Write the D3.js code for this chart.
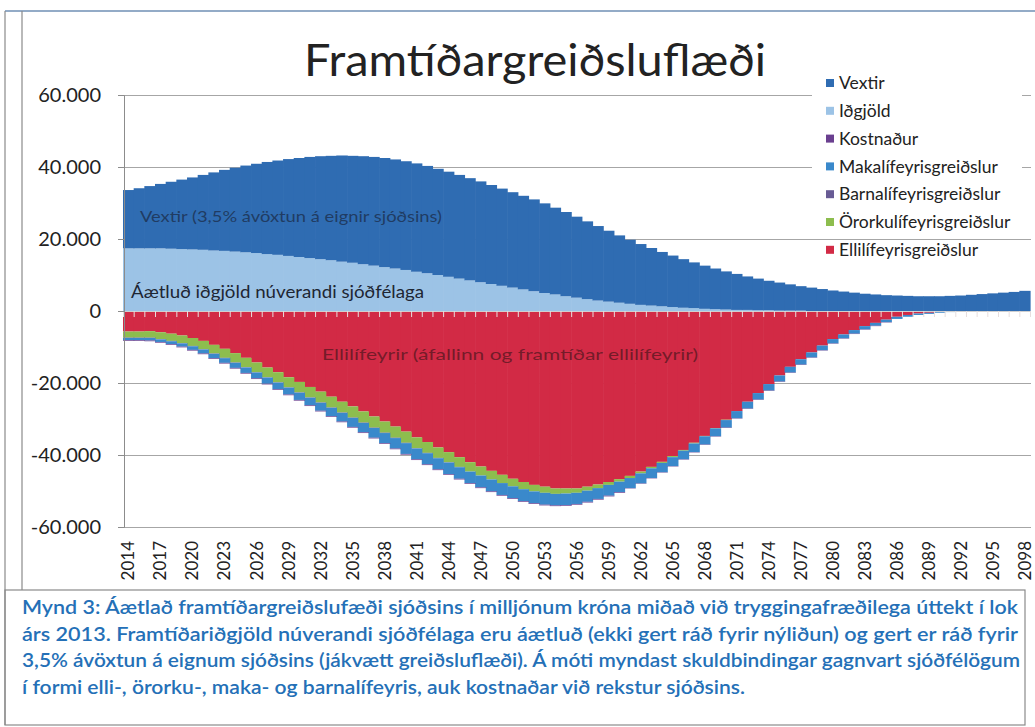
<!DOCTYPE html>
<html>
<head>
<meta charset="utf-8">
<script src="https://cdn.jsdelivr.net/npm/d3@7"></script>
<style>
  body { margin: 0; background: #fff; }
  svg { display: block; font-family: Lato, "Open Sans", sans-serif; }
</style>
</head>
<body>
<svg id="chart" width="1035" height="727"></svg>
<script>
// values in thousands of millions kr (axis shows 60.000 = 60 here)
const years = d3.range(2014, 2099);

const vextir = [
  16.2, 16.7, 17.3, 17.9, 18.6, 19.3, 20.0, 20.8, 21.7, 22.5,
  23.3, 24.1, 24.8, 25.6, 26.2, 26.9, 27.5, 28.1, 28.6, 29.0,
  29.5, 29.7, 30.0, 30.2, 30.3, 30.3, 30.2, 30.1, 29.8, 29.5,
  29.2, 28.8, 28.4, 28.0, 27.5, 27.0, 26.5, 26.0, 25.5, 24.9,
  24.1, 23.4, 22.5, 21.6, 20.7, 19.7, 18.7, 17.8, 16.9, 16.0,
  15.1, 14.3, 13.5, 12.7, 12.0, 11.3, 10.6, 10.0, 9.3, 8.8,
  8.2, 7.8, 7.3, 6.8, 6.5, 6.1, 5.7, 5.4, 5.1, 4.8,
  4.6, 4.4, 4.3, 4.2, 4.1, 4.1, 4.1, 4.2, 4.3, 4.5,
  4.7, 4.9, 5.1, 5.3, 5.6
];
const idgjold = [
  17.4, 17.4, 17.4, 17.4, 17.3, 17.2, 17.1, 17.0, 16.8, 16.7,
  16.5, 16.3, 16.1, 15.8, 15.6, 15.3, 15.0, 14.7, 14.4, 14.1,
  13.7, 13.4, 13.0, 12.6, 12.2, 11.8, 11.4, 10.9, 10.5, 10.0,
  9.5, 9.0, 8.5, 8.0, 7.5, 7.0, 6.5, 6.0, 5.5, 5.0,
  4.6, 4.1, 3.7, 3.3, 2.9, 2.6, 2.3, 2.0, 1.7, 1.5,
  1.3, 1.1, 0.9, 0.8, 0.6, 0.5, 0.4, 0.3, 0.3, 0.2,
  0.2, 0.1, 0.1, 0.1, 0, 0, 0, 0, 0, 0,
  0, 0, 0, 0, 0, 0, 0, 0, 0, 0,
  0, 0, 0, 0, 0
];
const kostnadur = [
  0.2, 0.2, 0.2, 0.2, 0.2, 0.2, 0.2, 0.2, 0.2, 0.2,
  0.2, 0.2, 0.2, 0.2, 0.2, 0.2, 0.2, 0.2, 0.2, 0.2,
  0.2, 0.2, 0.2, 0.2, 0.2, 0.2, 0.2, 0.2, 0.2, 0.2,
  0.2, 0.2, 0.2, 0.2, 0.2, 0.2, 0.2, 0.2, 0.2, 0.2,
  0.2, 0.2, 0.2, 0.2, 0.2, 0.2, 0.2, 0.1, 0.1, 0.1,
  0.1, 0.1, 0.1, 0.1, 0.1, 0.1, 0.1, 0.1, 0.1, 0.1,
  0.1, 0.1, 0.1, 0.1, 0.1, 0.1, 0.1, 0.1, 0.1, 0.1,
  0.1, 0.1, 0, 0, 0, 0, 0, 0, 0, 0,
  0, 0, 0, 0, 0
];
const maka = [
  0.6, 0.6, 0.7, 0.7, 0.8, 0.9, 1.0, 1.1, 1.2, 1.3,
  1.4, 1.5, 1.6, 1.7, 1.8, 1.9, 2.0, 2.1, 2.2, 2.3,
  2.4, 2.5, 2.6, 2.7, 2.8, 2.9, 3.0, 3.0, 3.1, 3.1,
  3.2, 3.2, 3.2, 3.3, 3.3, 3.3, 3.3, 3.3, 3.3, 3.3,
  3.2, 3.2, 3.1, 3.1, 3.0, 3.0, 2.9, 2.8, 2.8, 2.7,
  2.6, 2.5, 2.4, 2.4, 2.3, 2.2, 2.1, 2.0, 1.9, 1.8,
  1.8, 1.7, 1.6, 1.5, 1.4, 1.3, 1.2, 1.1, 1.0, 0.9,
  0.8, 0.7, 0.6, 0.5, 0.4, 0.3, 0.2, 0.2, 0.1, 0.1,
  0, 0, 0, 0, 0
];
const barna = [
  0.1, 0.1, 0.1, 0.1, 0.1, 0.1, 0.1, 0.1, 0.1, 0.1,
  0.1, 0.1, 0.1, 0.1, 0.1, 0.1, 0.1, 0.1, 0.1, 0.1,
  0.1, 0.1, 0.1, 0.1, 0.1, 0.1, 0.1, 0.1, 0.1, 0.1,
  0.1, 0.1, 0, 0, 0, 0, 0, 0, 0, 0,
  0, 0, 0, 0, 0, 0, 0, 0, 0, 0,
  0, 0, 0, 0, 0, 0, 0, 0, 0, 0,
  0, 0, 0, 0, 0, 0, 0, 0, 0, 0,
  0, 0, 0, 0, 0, 0, 0, 0, 0, 0,
  0, 0, 0, 0, 0
];
const ororku = [
  1.7, 1.7, 1.8, 1.9, 2.0, 2.1, 2.2, 2.3, 2.4, 2.5,
  2.6, 2.6, 2.7, 2.7, 2.8, 2.8, 2.9, 2.9, 3.0, 3.0,
  3.0, 3.1, 3.1, 3.1, 3.1, 3.1, 3.1, 3.0, 3.0, 2.9,
  2.8, 2.7, 2.6, 2.5, 2.4, 2.3, 2.1, 2.0, 1.8, 1.7,
  1.5, 1.4, 1.2, 1.1, 1.0, 0.8, 0.7, 0.6, 0.5, 0.4,
  0.3, 0.3, 0.2, 0.2, 0.1, 0.1, 0.1, 0, 0, 0,
  0, 0, 0, 0, 0, 0, 0, 0, 0, 0,
  0, 0, 0, 0, 0, 0, 0, 0, 0, 0,
  0, 0, 0, 0, 0
];
const elli = [
  5.7, 5.7, 5.6, 5.9, 6.3, 6.8, 7.5, 8.3, 9.4, 10.5,
  11.7, 13.0, 14.3, 15.7, 17.0, 18.4, 19.7, 21.1, 22.4, 23.8,
  25.2, 26.5, 27.9, 29.3, 30.7, 32.1, 33.5, 35.1, 36.4, 37.9,
  39.2, 40.6, 42.0, 43.2, 44.4, 45.5, 46.6, 47.5, 48.3, 48.8,
  49.3, 49.3, 49.3, 48.8, 48.2, 47.5, 46.7, 45.8, 44.6, 43.3,
  41.9, 40.3, 38.6, 36.6, 34.7, 32.5, 30.2, 27.8, 25.2, 22.8,
  20.3, 17.9, 15.5, 13.4, 11.5, 9.6, 7.8, 6.5, 5.3, 4.2,
  3.3, 2.4, 1.6, 1.1, 0.7, 0.5, 0.3, 0.1, 0.1, 0,
  0, 0, 0, 0, 0
];

const yTicks = [-60, -40, -20, 0, 20, 40, 60];
const xLabelYears = years.filter((d, i) => i % 3 === 0);

const series = [
  { key: "vextir", name: "Vextir", values: vextir, color: "#2f6cb2", out: false },
  { key: "idgjold", name: "Iðgjöld", values: idgjold, color: "#9cc3e6", out: false },
  { key: "kostnadur", name: "Kostnaður", values: kostnadur, color: "#6a3f8f", out: true },
  { key: "maka", name: "Makalífeyrisgreiðslur", values: maka, color: "#3a89cb", out: true },
  { key: "barna", name: "Barnalífeyrisgreiðslur", values: barna, color: "#685b94", out: true },
  { key: "ororku", name: "Örorkulífeyrisgreiðslur", values: ororku, color: "#8dbd4e", out: true },
  { key: "elli", name: "Ellilífeyrisgreiðslur", values: elli, color: "#d22a45", out: true }
];

const captionLines = [
  "Mynd 3: Áætlað framtíðargreiðslufæði sjóðsins í milljónum króna miðað við tryggingafræðilega úttekt í lok",
  "árs 2013. Framtíðariðgjöld núverandi sjóðfélaga eru áætluð (ekki gert ráð fyrir nýliðun) og gert er ráð fyrir",
  "3,5% ávöxtun á eignum sjóðsins (jákvætt greiðsluflæði). Á móti myndast skuldbindingar gagnvart sjóðfélögum",
  "í formi elli-, örorku-, maka- og barnalífeyris, auk kostnaðar við rekstur sjóðsins."
];

const svg = d3.select("#chart");

const plot = { left: 123, right: 1030, top: 95, bottom: 527 };

const x = d3.scaleBand().domain(years).range([plot.left, plot.right]).padding(0);
const y = d3.scaleLinear().domain([-60, 60]).range([plot.bottom, plot.top]);

const isLocale = d3.formatLocale({ decimal: ",", thousands: ".", grouping: [3], currency: ["", " kr."], minus: "-" });
const fmt = isLocale.format(",.0f");

// frame
const frame = svg.append("g").attr("fill", "none");
frame.append("line").attr("x1", 5).attr("x2", 1035).attr("y1", 11).attr("y2", 11)
  .attr("stroke", "#6f8fb4").attr("stroke-width", 1.5);
frame.append("line").attr("x1", 5).attr("x2", 5).attr("y1", 11).attr("y2", 725)
  .attr("stroke", "#8a8a8a").attr("stroke-width", 1.2);
frame.append("line").attr("x1", 22).attr("x2", 22).attr("y1", 11).attr("y2", 590)
  .attr("stroke", "#8a8a8a").attr("stroke-width", 1.2);
frame.append("rect").attr("x", 5).attr("y", 590).attr("width", 1020).attr("height", 135)
  .attr("stroke", "#8a8a8a").attr("stroke-width", 1.2);

// gridlines
const grid = svg.append("g")
  .attr("transform", `translate(${plot.left + 1},0)`)
  .call(d3.axisLeft(y).tickValues(yTicks.filter(d => d !== 0))
    .tickSize(-(plot.right - plot.left)).tickFormat(""));
grid.select(".domain").remove();
grid.selectAll("line").attr("stroke", "#a6a6a6").attr("stroke-width", 1);

// stacked table
const table = years.map((yr, i) => {
  const row = { year: yr };
  series.forEach(s => { row[s.key] = s.out ? -s.values[i] : s.values[i]; });
  return row;
});
const stackOrder = ["elli", "ororku", "barna", "maka", "kostnadur", "idgjold", "vextir"];
const stacked = d3.stack().keys(stackOrder).offset(d3.stackOffsetDiverging)(table);
const colorOf = Object.fromEntries(series.map(s => [s.key, s.color]));

const bars = svg.append("g").attr("id", "bars");
bars.selectAll("g")
  .data(stacked)
  .join("g")
  .attr("fill", d => colorOf[d.key])
  .selectAll("rect")
  .data(d => d.filter(p => p[0] !== p[1]))
  .join("rect")
  .attr("x", d => x(d.data.year))
  .attr("width", x.bandwidth() + 0.6)
  .attr("y", d => y(Math.max(d[0], d[1])))
  .attr("height", d => Math.abs(y(d[0]) - y(d[1])));

// category axis at zero, ticks between categories
const idx = d3.scaleLinear().domain([0, years.length]).range([plot.left, plot.right]);
const zeroAxis = svg.append("g")
  .attr("transform", `translate(0,${y(0)})`)
  .call(d3.axisBottom(idx).tickValues(d3.range(years.length + 1)).tickSize(6).tickFormat(""));
zeroAxis.select(".domain").attr("stroke", "#cfcfcf");
zeroAxis.selectAll(".tick line").attr("stroke", "#e6dede");

// y axis
const yAxis = svg.append("g")
  .attr("transform", `translate(${plot.left + 1},0)`)
  .call(d3.axisLeft(y).tickValues(yTicks).tickSize(6).tickPadding(17).tickFormat(d => fmt(d * 1000)));
yAxis.select(".domain").attr("stroke", "#8c8c8c");
yAxis.selectAll(".tick line").attr("stroke", "#8c8c8c");
yAxis.selectAll("text").attr("font-family", "Lato, sans-serif").attr("font-size", 20).attr("fill", "#222");

// x labels
svg.append("g").selectAll("text")
  .data(xLabelYears)
  .join("text")
  .attr("transform", d => `translate(${x(d) + x.bandwidth() / 2},541) rotate(-90)`)
  .attr("dy", "0.36em")
  .attr("text-anchor", "end")
  .attr("font-size", 17)
  .attr("fill", "#222")
  .text(d => d);

// in-chart labels
svg.append("text").attr("x", 140).attr("y", 222)
  .attr("font-size", 16).attr("fill", "#1c2f4d").attr("fill-opacity", 0.8)
  .attr("textLength", 302).attr("lengthAdjust", "spacingAndGlyphs")
  .text("Vextir (3,5% ávöxtun á eignir sjóðsins)");
svg.append("text").attr("x", 131).attr("y", 298)
  .attr("font-size", 17).attr("fill", "#1e2633")
  .attr("textLength", 293).attr("lengthAdjust", "spacingAndGlyphs")
  .text("Áætluð iðgjöld núverandi sjóðfélaga");
svg.append("text").attr("x", 322).attr("y", 360)
  .attr("font-size", 16).attr("fill", "#5c1822").attr("fill-opacity", 0.8)
  .attr("textLength", 376).attr("lengthAdjust", "spacingAndGlyphs")
  .text("Ellilífeyrir (áfallinn og framtíðar ellilífeyrir)");

// title
svg.append("text").attr("x", 535).attr("y", 76)
  .attr("text-anchor", "middle").attr("font-size", 44).attr("fill", "#222")
  .attr("textLength", 462).attr("lengthAdjust", "spacingAndGlyphs")
  .text("Framtíðargreiðsluflæði");

// legend
const legend = svg.append("g").attr("transform", "translate(826,83)");
legend.append("rect").attr("x", -14).attr("y", -16).attr("width", 210).attr("height", 160).attr("fill", "#fff");
const item = legend.selectAll("g.item")
  .data(series)
  .join("g")
  .attr("class", "item")
  .attr("transform", (d, i) => `translate(0,${i * 27.8})`);
item.append("rect").attr("x", 0).attr("y", -4).attr("width", 8).attr("height", 8).attr("fill", d => d.color);
item.append("text").attr("x", 13).attr("dy", "0.35em")
  .attr("font-size", 17.5).attr("fill", "#222").text(d => d.name);

// caption
svg.append("g").selectAll("text")
  .data(captionLines)
  .join("text")
  .attr("x", 22)
  .attr("y", (d, i) => 614 + i * 26.6)
  .attr("font-size", 18.5)
  .attr("font-weight", 600)
  .attr("fill", "#2470b7")
  .attr("textLength", (d, i) => [996, 996, 998, 723][i])
  .attr("lengthAdjust", "spacingAndGlyphs")
  .text(d => d);
</script>
</body>
</html>
